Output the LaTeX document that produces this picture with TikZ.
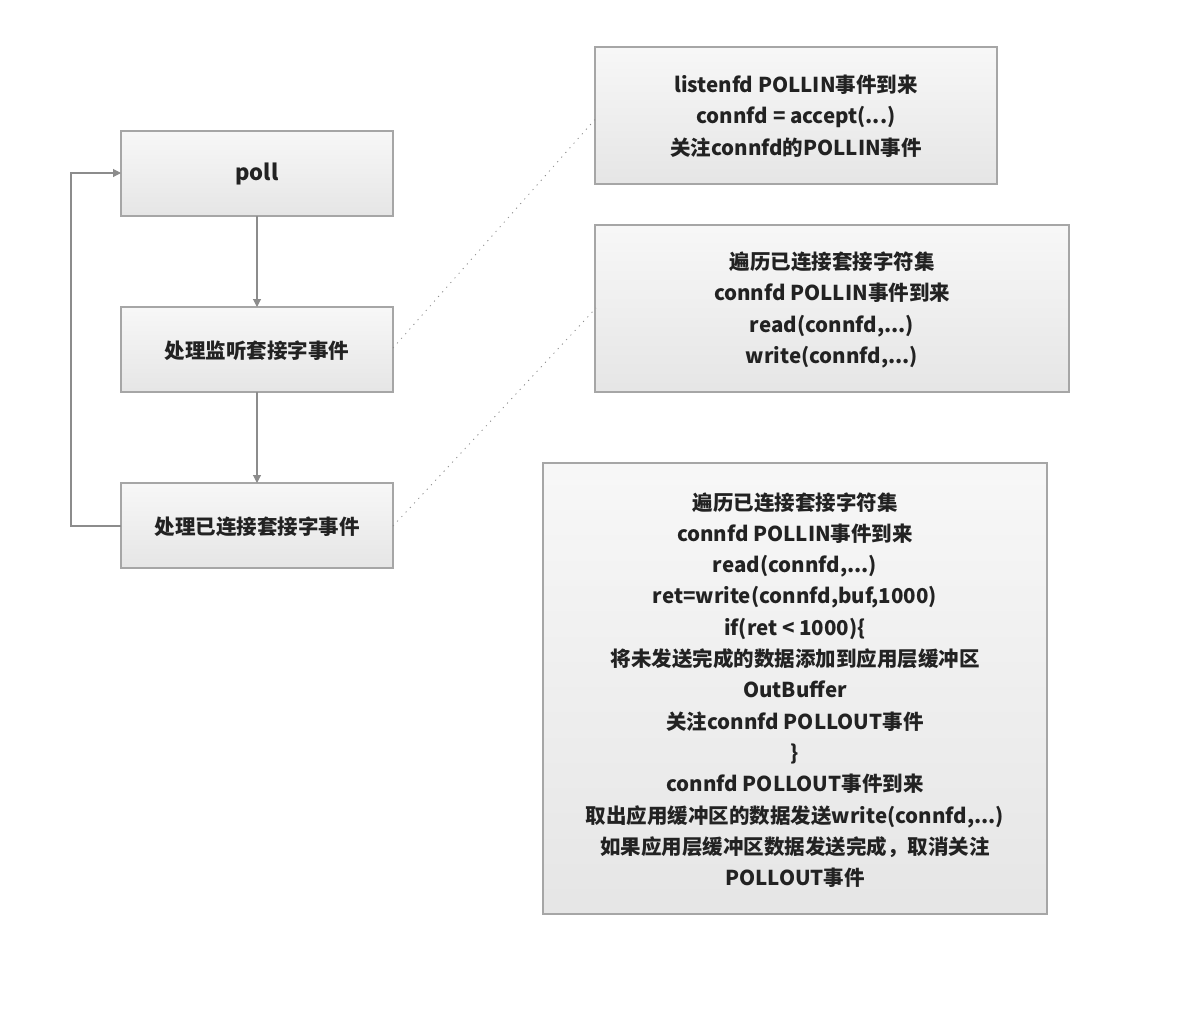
\documentclass[tikz,border=0pt]{standalone}
\usepackage{fontspec}
\setmainfont{Noto Sans CJK SC}
\usetikzlibrary{arrows.meta,shadows}
\definecolor{boxline}{HTML}{A6A6A6}
\definecolor{linkgray}{HTML}{8C8C8C}
\definecolor{txt}{HTML}{222222}
\tikzset{
  px/.style={x=1pt,y=-1pt},
  procbox/.style={draw=boxline, line width=1.3pt, top color=white!97!black, bottom color=white!90!black,
    drop shadow={shadow xshift=1.2pt, shadow yshift=-1.2pt, opacity=0.18}},
  boxtext/.style={text=txt, align=center, font=\fontsize{20.5}{31.3}\selectfont\bfseries},
  flow/.style={draw=linkgray, line width=1.1pt, -{Triangle[length=8pt,width=8pt]}},
  note/.style={draw=linkgray, line width=0.8pt, dash pattern=on 1.2pt off 5pt},
}
\begin{document}
\begin{tikzpicture}[px]
\useasboundingbox (0,0) rectangle (1190,1010);
% left boxes
\draw[procbox] (121,131) rectangle (393,216);
\draw[procbox] (121,307) rectangle (393,392);
\draw[procbox] (121,483) rectangle (393,568);
\node[boxtext, font=\fontsize{22}{26}\selectfont\bfseries] (poll) at (257,174) {poll};
\node[boxtext] (listen) at (257,351) {处理监听套接字事件};
\node[boxtext] (conn) at (257,526.5) {处理已连接套接字事件};
\coordinate (pollN) at (257,216);
\coordinate (listenN) at (257,307);
\coordinate (listenS) at (257,392);
\coordinate (connN) at (257,483);
\coordinate (connW) at (121,526);
\coordinate (connE) at (393,526);
\coordinate (listenE) at (393,348);
\coordinate (pollW) at (121,173);
\coordinate (loopA) at (71,526);
\coordinate (loopB) at (71,173);
% right boxes
\draw[procbox] (595,47) rectangle (997,184);
\draw[procbox] (595,225) rectangle (1069,392);
\draw[procbox] (543,463) rectangle (1047,914);
\coordinate (oneW) at (598,116);
\coordinate (twoW) at (596,308);
\node[boxtext] (one) at (796,116) {listenfd POLLIN事件到来\\connfd = accept(...)\\关注connfd的POLLIN事件};
\node[boxtext] (two) at (832,310) {遍历已连接套接字符集\\connfd POLLIN事件到来\\read(connfd,...)\\write(connfd,...)};
\node[boxtext] (three) at (795,690) {遍历已连接套接字符集\\connfd POLLIN事件到来\\read(connfd,...)\\ret=write(connfd,buf,1000)\\if(ret < 1000)\{\\将未发送完成的数据添加到应用层缓冲区\\OutBuffer\\关注connfd POLLOUT事件\\\}\\connfd POLLOUT事件到来\\取出应用缓冲区的数据发送write(connfd,...)\\如果应用层缓冲区数据发送完成，取消关注\\POLLOUT事件};
% connectors
\draw[flow] (pollN) -- (listenN);
\draw[flow] (listenS) -- (connN);
\draw[flow] (connW) -- (loopA) -- (loopB) -- (pollW);
\draw[note] (listenE) -- (oneW);
\draw[note] (connE) -- (twoW);
\end{tikzpicture}
\end{document}
